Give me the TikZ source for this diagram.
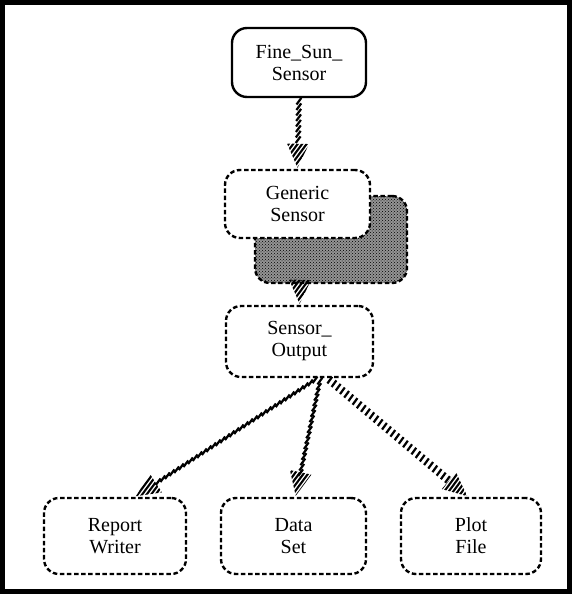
\documentclass[tikz,border=0pt]{standalone}
\usepackage{fontspec}
\setmainfont{Liberation Serif}
\usetikzlibrary{decorations.markings,calc,patterns}
\begin{document}
\begin{tikzpicture}[x=1pt,y=-1pt,
  box/.style={draw, line width=2.4pt, rounded corners=15pt, inner sep=0pt,
    align=center, font=\fontsize{20}{22}\selectfont, fill=white},
  dbox/.style={box, dash pattern=on 4.5pt off 2.6pt},
  shadowbox/.style={dbox, fill=black!42, postaction={pattern=crosshatch dots, pattern color=black}},
  hatch/.style={decoration={markings,
    mark=between positions 3pt and -24pt step 5.5pt with {\pgftransformresetnontranslations
      \draw[line width=2.2pt] (-2.4pt,-3.3pt) -- (2.4pt,3.3pt);},
    mark=at position -1pt with {
      \begin{scope}
        \clip (0pt,0pt) -- (-24pt,-11pt) -- (-24pt,11pt) -- cycle;
        \pgftransformresetnontranslations
        \foreach \o in {-40,-35.5,...,40}
          \draw[line width=2.1pt] (\o pt-20pt,-27pt) -- (\o pt+20pt,27pt);
      \end{scope}}},
    postaction={decorate}}
]
\useasboundingbox (0,0) rectangle (572,594);
\draw[line width=5pt] (2.5,2.5) rectangle (569.5,591.5);

\node[box, minimum width=134pt, minimum height=69pt] (fine) at (299,62.5) {Fine\_Sun\_\\Sensor};
\node[shadowbox, minimum width=152pt, minimum height=87pt] (shadow) at (331,239.5) {};
\node[dbox, minimum width=145pt, minimum height=68pt] (gen) at (297.5,204) {Generic\\Sensor};
\node[dbox, minimum width=147pt, minimum height=71pt] (out) at (299.5,341.5) {Sensor\_\\Output};
\node[dbox, minimum width=142pt, minimum height=76pt] (rep) at (115,536) {Report\\Writer};
\node[dbox, minimum width=145pt, minimum height=76pt] (data) at (293.5,536) {Data\\Set};
\node[dbox, minimum width=140pt, minimum height=76pt] (plot) at (471,536) {Plot\\File};

\path[hatch] (fine.south) -- (gen.north);
\path[hatch] ($(shadow.south)+(-31,0)$) -- (out.north);
\path[hatch] ($(out.south)+(18,0)$) -- ($(rep.north)+(20,0)$);
\path[hatch] ($(out.south)+(21,0)$) -- ($(data.north)+(2,0)$);
\path[hatch] ($(out.south)+(28,0)$) -- ($(plot.north)+(-3,0)$);
\end{tikzpicture}
\end{document}
